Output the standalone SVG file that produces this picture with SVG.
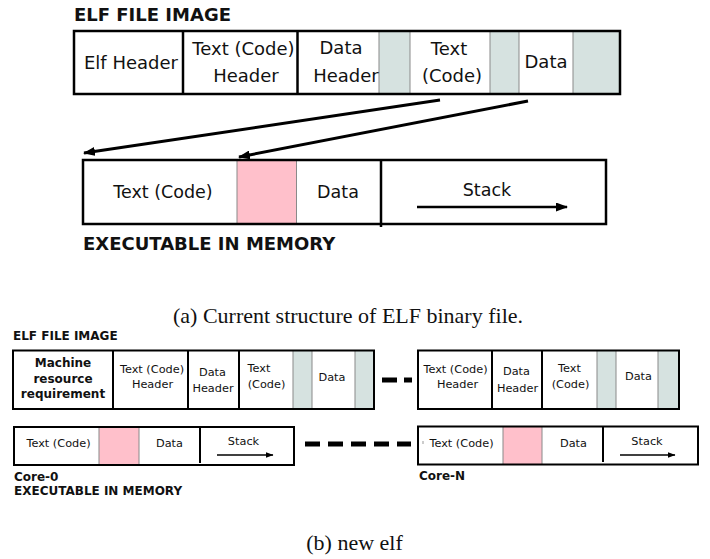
<svg xmlns="http://www.w3.org/2000/svg" width="710" height="559" viewBox="0 0 710 559">
<defs>
<style>
text{font-family:"DejaVu Sans","Noto Sans",sans-serif;fill:#111;}
.big{font-size:18px;text-anchor:middle;}
.mid{font-size:17.5px;text-anchor:middle;}
.sm{font-size:11.3px;text-anchor:middle;}
.title{font-weight:bold;font-size:18px;}
.tsm{font-weight:bold;font-size:12px;}
.bsm{font-weight:bold;font-size:12px;text-anchor:middle;}
.cap{font-family:"Liberation Serif","Times New Roman",serif;font-size:22px;text-anchor:middle;}
.box{fill:none;stroke:#000;stroke-width:2.5;}
.boxs{fill:none;stroke:#000;stroke-width:2;}
.div{stroke:#000;stroke-width:2.5;}
.divs{stroke:#000;stroke-width:2;}
.gray{fill:#d6e2e0;stroke:#8a8a8a;stroke-width:1;}
.pink{fill:#ffc0cb;stroke:#8a8a8a;stroke-width:1;}
.arr{stroke:#000;stroke-width:3;fill:none;marker-end:url(#ah);}
.sarr{stroke:#000;stroke-width:2.5;fill:none;marker-end:url(#ah);}
.sarr2{stroke:#000;stroke-width:1.6;fill:none;marker-end:url(#ahs);}
.dash{stroke:#000;stroke-width:5;}
</style>
<marker id="ah" markerWidth="12" markerHeight="9" refX="11" refY="4.5" orient="auto" markerUnits="userSpaceOnUse">
<path d="M0,0 L12,4.5 L0,9 z" fill="#000"/>
</marker>
<marker id="ahs" markerWidth="8" markerHeight="6" refX="7.5" refY="3" orient="auto" markerUnits="userSpaceOnUse">
<path d="M0,0 L8,3 L0,6 z" fill="#000"/>
</marker>
</defs>
<rect width="710" height="559" fill="#fff"/>

<!-- (a) -->
<g id="elf-file-image-a">
<text class="title" x="74" y="21">ELF FILE IMAGE</text>
<rect class="gray" x="379" y="31" width="31" height="63"/>
<rect class="gray" x="490" y="31" width="29" height="63"/>
<rect class="gray" x="573" y="31" width="47" height="63"/>
<rect class="box" x="74" y="31" width="546" height="63"/>
<line class="div" x1="183" y1="31" x2="183" y2="94"/>
<line class="div" x1="297.5" y1="31" x2="297.5" y2="94"/>
<text class="big" x="131" y="69">Elf Header</text>
<text class="big" x="243.5" y="55">Text (Code)</text>
<text class="big" x="246" y="82">Header</text>
<text class="big" x="341" y="54">Data</text>
<text class="big" x="346" y="82">Header</text>
<text class="big" x="449" y="55">Text</text>
<text class="big" x="452" y="82">(Code)</text>
<text class="big" x="546" y="68">Data</text>
</g>

<g id="exec-a">
<rect class="pink" x="237" y="160" width="59.5" height="64"/>
<rect class="box" x="83" y="160" width="523" height="64"/>
<line class="div" x1="381" y1="160" x2="381" y2="227"/>
<text class="mid" x="163" y="198">Text (Code)</text>
<text class="mid" x="338" y="198">Data</text>
<text class="mid" x="487" y="196">Stack</text>
<line class="sarr" x1="417" y1="207" x2="567" y2="207"/>
<text class="title" x="83" y="250">EXECUTABLE IN MEMORY</text>
</g>

<g id="connectors-a">
<line class="arr" x1="440" y1="100" x2="84" y2="153"/>
<line class="arr" x1="528" y1="101" x2="239" y2="157"/>
</g>

<text class="cap" x="348" y="323">(a) Current structure of ELF binary file.</text>

<!-- (b) -->
<g id="elf-file-image-b">
<text class="tsm" x="13" y="340">ELF FILE IMAGE</text>
</g>

<g id="elf-left">
<rect class="gray" x="293" y="350.5" width="19" height="58.5"/>
<rect class="gray" x="355" y="350.5" width="19" height="58.5"/>
<rect class="boxs" x="13" y="350.5" width="361" height="58.5"/>
<line class="divs" x1="113" y1="350.5" x2="113" y2="409"/>
<line class="divs" x1="188" y1="350.5" x2="188" y2="409"/>
<line class="divs" x1="239" y1="350.5" x2="239" y2="409"/>
<text class="bsm" x="63" y="367">Machine</text>
<text class="bsm" x="63" y="383">resource</text>
<text class="bsm" x="63" y="398">requirement</text>
<text class="sm" x="152" y="373">Text (Code)</text>
<text class="sm" x="152.5" y="388">Header</text>
<text class="sm" x="212.5" y="376">Data</text>
<text class="sm" x="213" y="392">Header</text>
<text class="sm" x="259" y="372">Text</text>
<text class="sm" x="266.5" y="388">(Code)</text>
<text class="sm" x="332" y="381">Data</text>
</g>

<g id="elf-right">
<rect class="gray" x="597" y="350.5" width="19" height="58.5"/>
<rect class="gray" x="658" y="350.5" width="21" height="58.5"/>
<rect class="boxs" x="418" y="350.5" width="261" height="58.5"/>
<line class="divs" x1="492" y1="350.5" x2="492" y2="409"/>
<line class="divs" x1="542" y1="350.5" x2="542" y2="409"/>
<text class="sm" x="455.5" y="373">Text (Code)</text>
<text class="sm" x="457.5" y="388">Header</text>
<text class="sm" x="516.5" y="375">Data</text>
<text class="sm" x="517.5" y="392">Header</text>
<text class="sm" x="569.5" y="372">Text</text>
<text class="sm" x="570.5" y="388">(Code)</text>
<text class="sm" x="638.5" y="380">Data</text>
</g>

<g id="exec-core0">
<rect class="pink" x="99" y="427" width="40" height="38"/>
<rect class="boxs" x="14" y="427" width="280" height="38"/>
<line class="divs" x1="200" y1="427" x2="200" y2="463"/>
<text class="sm" x="58.5" y="447">Text (Code)</text>
<text class="sm" x="169.5" y="447">Data</text>
<text class="sm" x="243.5" y="445">Stack</text>
<line class="sarr2" x1="217" y1="455" x2="273" y2="455"/>
<text class="tsm" x="14" y="481">Core-0</text>
<text class="tsm" x="14" y="495">EXECUTABLE IN MEMORY</text>
</g>

<g id="exec-coreN">
<rect class="pink" x="503" y="426.5" width="39" height="38"/>
<rect class="boxs" x="418" y="426.5" width="280" height="38"/>
<line class="divs" x1="603" y1="426.5" x2="603" y2="462"/>
<line x1="423" y1="441" x2="423" y2="444" stroke="#999" stroke-width="1"/>
<text class="sm" x="461.5" y="447">Text (Code)</text>
<text class="sm" x="573.5" y="447">Data</text>
<text class="sm" x="647" y="445">Stack</text>
<line class="sarr2" x1="620" y1="455" x2="675" y2="455"/>
<text class="tsm" x="419" y="480">Core-N</text>
</g>

<g id="connectors-b">
<line class="dash" x1="382" y1="380" x2="397" y2="380"/>
<line class="dash" x1="404" y1="380" x2="412" y2="380"/>
<line class="dash" x1="305" y1="444" x2="411" y2="444" stroke-dasharray="15 8"/>
</g>

<text class="cap" x="354.5" y="550">(b) new elf</text>
</svg>
